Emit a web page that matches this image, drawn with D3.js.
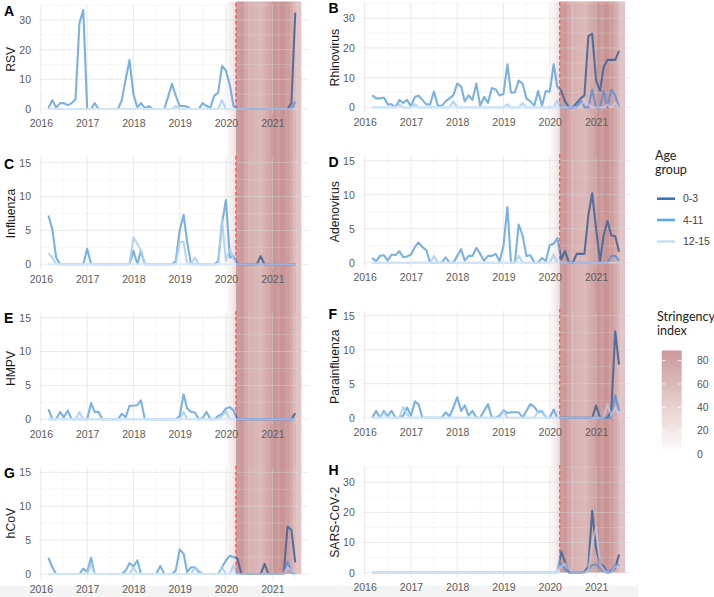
<!DOCTYPE html>
<html>
<head>
<meta charset="utf-8">
<script src="https://cdn.jsdelivr.net/npm/d3@7"></script>
<style>
body { margin: 0; background: #fff; }
svg { display: block; font-family: "Liberation Sans", Arial, sans-serif; }
</style>
</head>
<body>
<div id="chart"></div>
<script>
// Monthly counts per age group, first value = Mar 2016, last = Jul 2021
// rows: Mar-Dec 2016 | 2017 | 2018 | 2019 | 2020 | Jan-Jul 2021
var ageGroups = ["0-3", "4-11", "12-15"];

var rsv03 = [0.3, 3, 0.5, 2, 2, 1.3, 2, 3.3, 29, 33.3,
    0, 0, 2, 0, 0, 0, 0, 0, 0, 3, 10, 16.5,
    5, 0.5, 2, 0.3, 1, 0, 0, 0, 0, 4, 8.5, 4.5,
    1, 1, 0.8, 0, 0, 0, 2, 1, 0.5, 4.5, 5.5, 14.5,
    13, 8, 1, 0, 0, 0, 0, 0, 0, 0, 0, 0,
    0, 0, 0, 0, 0, 2, 32.5];
var rsv411 = [0, 0, 0, 0, 0, 0, 0, 0, 0, 0,
    0, 0, 0, 0, 0, 0, 0, 0, 0, 0, 0, 0,
    0, 0, 0, 0, 0, 0, 0, 0, 0, 0, 0, 1,
    0, 0, 0, 0, 0, 0, 0, 0, 0, 0, 0, 3,
    0, 0, 0, 0, 0, 0, 0, 0, 0, 0, 0, 0,
    0, 0, 0, 0, 0, 0, 2.5];
var rsv1215 = [0, 0, 0, 0, 0, 0, 0, 0, 0, 0,
    0, 0, 0, 0, 0, 0, 0, 0, 0, 0, 0, 0,
    0, 0, 0, 0, 0, 0, 0, 0, 0, 0, 0, 0,
    0, 0, 0, 0, 0, 0, 0, 0, 0, 0, 0, 0,
    0, 0, 0, 0, 0, 0, 0, 0, 0, 0, 0, 0,
    0, 0, 0, 0, 0, 0, 0];

var rhino03 = [4, 3, 3, 3.3, 1, 1, 0, 2.5, 1.5, 2.5,
    0.3, 3.5, 4, 2.5, 1, 1, 5.3, 0.5, 0.5, 2, 3, 4,
    8, 7, 2, 4, 2.5, 8, 0.5, 3.5, 1.5, 6.5, 6, 4,
    4.5, 14.5, 5, 5, 9, 8, 3, 2, 0.5, 5.5, 0.5, 5.5,
    5.3, 14.5, 7, 5.5, 2, 0, 0, 1.5, 3, 4, 24, 24.8,
    9, 5.5, 13.5, 16, 16, 16, 19];
var rhino411 = [0, 0, 0, 0, 0, 0, 0, 1, 0, 0,
    0, 1, 0, 0, 0, 0, 0, 0, 0, 0, 0, 2,
    0, 0, 0, 0, 0, 0, 0, 0, 0, 0, 0, 0,
    0, 1, 0, 0, 0, 1.5, 0, 0, 0, 0, 0, 0,
    0, 0, 2.3, 0, 0, 0, 0, 0, 2.5, 0, 0, 6,
    0, 0, 5.5, 0, 6, 4, 0];
var rhino1215 = [0, 0, 0, 0, 0, 0, 0, 0, 0, 0,
    0, 0, 0, 0, 0, 0, 0, 0, 0, 0, 0, 0,
    0, 0, 0, 0, 0, 0, 0, 0, 0, 0, 0, 0,
    0, 0, 0, 0, 0, 0, 0, 0, 0, 0, 0, 0,
    0, 0, 0, 0, 0, 0, 0, 0, 0, 2.5, 1, 0,
    0, 0, 0, 1, 0, 1.5, 0];

var flu03 = [7.2, 5.2, 1, 0, 0, 0, 0, 0, 0, 0,
    2.3, 0, 0, 0, 0, 0, 0, 0, 0, 0, 0, 0,
    2, 0, 2, 0, 0, 0, 0, 0, 0, 0, 0, 0.5,
    5, 7.3, 3.3, 0, 0, 0, 0, 0, 0, 0, 0.5, 6,
    9.5, 1, 1.2, 0, 0, 0, 0, 0, 0, 1.2, 0, 0,
    0, 0, 0, 0, 0, 0, 0];
var flu411 = [1.6, 1, 0, 0, 0, 0, 0, 0, 0, 0,
    0, 0, 0, 0, 0, 0, 0, 0, 0, 0, 0, 0,
    4, 3, 2, 0, 0, 0, 0, 0, 0, 0, 0, 0,
    3.3, 3.3, 0, 0, 1, 0, 0, 0, 0, 0, 0, 6.5,
    0.5, 2.3, 0.8, 0, 0, 0, 0, 0, 0, 0, 0, 0,
    0, 0, 0, 0, 0, 0, 0];
var flu1215 = rsv1215.slice();

var adeno03 = [0.7, 0.2, 1, 1.1, 0.3, 1.2, 1.1, 1.7, 0.8, 0.9,
    1.2, 2.3, 3, 2.3, 1.9, 0, 0, 0, 0, 0.8, 0, 0,
    1, 2, 0.3, 1, 1, 2.2, 1.3, 0.3, 1, 1, 1.3, 0.2,
    2.5, 8.2, 0, 0, 5.6, 4, 1, 1.1, 0, 0, 0.7, 0.2,
    2.6, 2.8, 3.6, 0.5, 1.7, 0, 0, 1.3, 1.3, 1.3, 7, 10.2,
    5, 0.2, 4, 6.1, 4, 3.9, 1.6];
var adeno411 = [0, 0, 0, 0, 0, 0, 0, 0, 0, 0,
    0, 0, 0, 0, 0, 0, 1, 0, 0, 0, 0, 0,
    0, 0, 0, 0, 0, 0, 0, 0, 0, 0, 0, 0,
    0, 0, 0, 0, 1, 0, 0, 0, 0, 0, 0, 0,
    0, 1.2, 0, 0, 0, 0, 0, 0, 0, 0, 0, 0,
    0, 0, 0, 0, 1, 1, 0.3];
var adeno1215 = rsv1215.slice();

var hmpv03 = [1.5, 0, 0, 1.1, 0.3, 1.3, 0, 0, 0, 0,
    0, 2.4, 1.1, 1.1, 0, 0, 0, 0, 0, 0.8, 0.3, 2,
    2, 2.1, 2.8, 0, 0, 0, 0, 0, 0, 0, 0, 0,
    0.5, 3.7, 1.6, 1.1, 1, 0, 0.2, 1.1, 0, 0, 0.5, 0.8,
    1.6, 1.8, 1.3, 0, 0, 0, 0, 0, 0, 0, 0, 0,
    0, 0, 0, 0, 0, 0, 0.9];
var hmpv411 = [0, 0, 0, 0, 0, 0, 0, 0, 1.1, 0,
    0, 0, 0, 0, 0, 0, 0, 0, 0, 0, 0, 0,
    0, 0, 0, 0, 0, 0, 0, 0, 0, 0, 0, 0,
    0, 1.1, 0, 0, 0, 0, 0, 0, 0, 0, 0, 0.5,
    1.2, 0, 0, 0, 0, 0, 0, 0, 0, 0, 0, 0,
    0, 0, 0, 0, 0, 0, 0];
var hmpv1215 = rsv1215.slice();

var para03 = [0, 1, 0, 1, 0.2, 1, 0, 0, 0.3, 1.5,
    0.3, 2.4, 2, 0, 0, 0, 0, 0, 0, 0.8, 0.2, 1.5,
    3, 1, 1.8, 0.3, 1, 0, 0, 1, 2, 0, 0, 0.3,
    1.1, 0.7, 0.8, 0.8, 0.8, 0, 1, 2, 1.6, 0.8, 1, 0,
    0, 1.2, 0, 0, 0, 0, 0, 0, 0, 0, 0, 0,
    1.8, 0, 0, 0, 1, 12.7, 7.8];
var para411 = [0, 0, 0, 0.8, 0, 0, 0, 0, 1.6, 0.5,
    0, 0, 0, 0, 0, 0, 0, 0, 0, 0, 0, 0,
    0, 0, 0, 0, 0, 0, 0, 0, 0, 0, 0, 0,
    1, 0, 0, 0, 0, 0, 0, 0, 0, 1, 1, 0,
    0, 0, 0, 0, 0, 0, 0, 0, 0, 0, 0, 0,
    0, 0, 0, 0, 0, 3.3, 1];
var para1215 = [0, 0, 0, 0, 0, 0, 0, 0, 0, 0,
    0, 0, 0, 0, 0, 0, 0, 0, 0, 0, 0, 0,
    0, 0, 0, 0, 0, 0, 0, 0, 0, 0, 0, 0,
    0, 0, 0, 0, 0, 0, 0, 0, 0, 0, 0, 0,
    0, 0, 0, 0, 0, 0, 0, 0, 0, 0, 0, 0,
    0, 0, 0, 2, 0.3, 1.5, 0.5];

var hcov03 = [2.4, 1, 0, 0, 0, 0, 0, 0, 0, 0.8,
    0.3, 2.4, 0, 0, 0, 0, 0, 0, 0, 0, 0.5, 1.6,
    1.1, 2, 0, 0, 0, 0, 0, 1.2, 0, 0, 0, 0.5,
    3.6, 3, 0.3, 1, 1, 0.3, 0, 0, 0, 0, 0, 1,
    2, 2.7, 2.5, 2.3, 0, 0, 0, 0, 0, 0, 1.5, 0,
    0, 0, 0, 0, 7, 6.5, 1.7];
var hcov411 = [0, 0, 0, 0, 0, 0, 0, 0, 0, 0,
    0, 1.5, 0, 0, 0, 0, 0, 0, 0, 0, 0, 0,
    1, 0, 0, 0, 0, 0, 0, 0, 0, 0, 0, 0,
    0, 0, 0, 0, 1, 0.5, 0, 0, 0, 0, 0, 1,
    0, 0, 1.3, 0, 0, 0, 0, 0, 0, 0, 0, 0,
    0, 0, 0, 0, 1.8, 0.3, 0];
var hcov1215 = [0, 0, 0, 0, 0, 0, 0, 0, 0, 0,
    0, 0, 0, 0, 0, 0, 0, 0, 0, 0, 0, 0,
    0, 0, 0, 0, 0, 0, 0, 0, 0, 0, 0, 0,
    0, 0, 0, 0, 0, 0, 0, 0, 0, 0, 0, 0,
    0, 0, 0, 0, 0, 0, 0, 0, 0, 0, 0, 0,
    0, 0, 0, 0, 1, 0.5, 0];

var sars03 = [0, 0, 0, 0, 0, 0, 0, 0, 0, 0,
    0, 0, 0, 0, 0, 0, 0, 0, 0, 0, 0, 0,
    0, 0, 0, 0, 0, 0, 0, 0, 0, 0, 0, 0,
    0, 0, 0, 0, 0, 0, 0, 0, 0, 0, 0, 0,
    0, 0, 0, 7, 3.5, 0.5, 0, 0, 0, 0.3, 2, 20.5,
    8, 3, 2, 0, 0.3, 1.5, 6];
var sars411 = [0, 0, 0, 0, 0, 0, 0, 0, 0, 0,
    0, 0, 0, 0, 0, 0, 0, 0, 0, 0, 0, 0,
    0, 0, 0, 0, 0, 0, 0, 0, 0, 0, 0, 0,
    0, 0, 0, 0, 0, 0, 0, 0, 0, 0, 0, 0,
    0, 0, 0, 3, 1, 0, 0, 0, 0, 0, 1, 2.5,
    2.8, 1.5, 0.5, 0, 1, 2.5, 2.5];
var sars1215 = [0, 0, 0, 0, 0, 0, 0, 0, 0, 0,
    0, 0, 0, 0, 0, 0, 0, 0, 0, 0, 0, 0,
    0, 0, 0, 0, 0, 0, 0, 0, 0, 0, 0, 0,
    0, 0, 0, 0, 0, 0, 0, 0, 0, 0, 0, 0,
    0, 0, 0, 2, 3, 1, 0, 0, 0, 0, 1, 10,
    15, 3, 1, 0, 0, 2, 2];

var panelNames = ["RSV", "Rhinovirus", "Influenza", "Adenovirus", "HMPV", "Parainfluenza", "hCoV", "SARS-CoV-2"];
var panelLetters = ["A", "B", "C", "D", "E", "F", "G", "H"];
var panelMax = [33.5, 33.5, 15, 15, 15, 15, 15, 33.5];
var panelSeries = [[rsv03, rsv411, rsv1215], [rhino03, rhino411, rhino1215],
    [flu03, flu411, flu1215], [adeno03, adeno411, adeno1215],
    [hmpv03, hmpv411, hmpv1215], [para03, para411, para1215],
    [hcov03, hcov411, hcov1215], [sars03, sars411, sars1215]];

// Stringency index, step changes (last date closes the band)
var stringencyDates = ["2020-01-10", "2020-02-01", "2020-02-25", "2020-03-20", "2020-04-20", "2020-05-20",
    "2020-06-20", "2020-08-01", "2020-09-10", "2020-10-15", "2020-11-10", "2020-12-10", "2021-01-05",
    "2021-02-05", "2021-03-01", "2021-04-15", "2021-05-20", "2021-06-15", "2021-07-10", "2021-08-15"];
var stringencyValues = [8, 14, 22, 76, 80, 68, 60, 56, 54, 60, 66, 74, 82, 76, 84, 76, 66, 56, 46];
var stringencyBreaks = [0, 20, 40, 60, 80];
var lockdownDate = "2020-03-20";

// ---------------- layout ----------------
var width = 714, height = 597;
var colX0 = [40.8, 364.6];        // pixel of 1 Jan 2016 in each column
var colRight = [308.4, 630.5];
var pxPerYear = 46.3;
var rowTop = [[4.6, 157.6, 312.6, 467.2], [2.9, 155.6, 310.6, 466.7]];
var rowBottom = [[114, 269.4, 424.4, 579.1], [112.3, 267.8, 422.8, 577.7]];
var letterY = [15.5, 12.5, 168.5, 167, 323, 319, 478, 475];

var parseDate = d3.timeParse("%Y-%m-%d");
var lockdown = parseDate(lockdownDate);
var months = d3.range(rsv03.length).map(i => d3.timeMonth.offset(new Date(2016, 2, 1), i));

var shadeColor = d3.scaleLinear().domain([0, 90]).range(["#ffffff", "#c48c8c"]);

// pre / post lockdown line styles
var preStyle = [
    {color: "#5b9fd8", opacity: 0.8},
    {color: "#a9cff0", opacity: 0.85},
    {color: "#d6e8f8", opacity: 0.9}];
var postStyle = [
    {color: "#4a6898", opacity: 0.92},
    {color: "#5d8fd4", opacity: 0.8},
    {color: "#c9d3ee", opacity: 0.6}];
var legendColors = ["#3c78b9", "#5aaaeb", "#c8e1f5"];

var svg = d3.select("#chart")
    .append("svg")
    .attr("width", width)
    .attr("height", height);

var defs = svg.append("defs");

// faint grey strip at the bottom
svg.append("rect")
    .attr("x", 0).attr("y", 586)
    .attr("width", 638).attr("height", 11)
    .attr("fill", "#f4f4f4");

function xScaleFor(col) {
    return d3.scaleTime()
        .domain([new Date(2016, 0, 1), new Date(2021, 0, 1)])
        .range([colX0[col], colX0[col] + 5 * pxPerYear]);
}

function yScaleFor(i) {
    var col = i % 2, row = Math.floor(i / 2);
    return d3.scaleLinear()
        .domain([-0.05 * panelMax[i], 1.05 * panelMax[i]])
        .range([rowBottom[col][row], rowTop[col][row]]);
}

// stringency band, one per column
[0, 1].forEach(function(col) {
    var x = xScaleFor(col);
    var yEnd = yScaleFor(6 + col)(0);
    var band = svg.append("g");
    band.selectAll("rect")
        .data(stringencyValues)
        .enter()
        .append("rect")
        .attr("x", (d, i) => x(parseDate(stringencyDates[i])))
        .attr("width", (d, i) => x(parseDate(stringencyDates[i + 1])) - x(parseDate(stringencyDates[i])) + 0.4)
        .attr("y", 1.5)
        .attr("height", yEnd - 1.5)
        .attr("fill", d => shadeColor(d));

    var xd = x(lockdown);
    defs.append("clipPath").attr("id", "pre" + col)
        .append("rect").attr("x", 0).attr("y", 0).attr("width", xd).attr("height", height);
    defs.append("clipPath").attr("id", "post" + col)
        .append("rect").attr("x", xd).attr("y", 0).attr("width", width - xd).attr("height", height);
});

// panels
panelNames.forEach(function(name, i) {
    var col = i % 2, row = Math.floor(i / 2);
    var x = xScaleFor(col);
    var y = yScaleFor(i);
    var left = colX0[col] - 1.5, right = colRight[col];
    var top = rowTop[col][row], bottom = rowBottom[col][row];
    var g = svg.append("g");

    var majorY = panelMax[i] > 20 ? [0, 10, 20, 30] : [0, 5, 10, 15];
    var minorY = panelMax[i] > 20 ? [5, 15, 25, 35] : [2.5, 7.5, 12.5];
    var majorX = d3.timeYear.range(new Date(2016, 0, 1), new Date(2022, 0, 1));
    var minorX = majorX.map(d => new Date(d.getFullYear(), 6, 1));

    // grid
    g.selectAll(".minorY").data(minorY).enter().append("line")
        .attr("x1", left).attr("x2", right)
        .attr("y1", d => y(d)).attr("y2", d => y(d))
        .attr("stroke", "#e2e2e2").attr("stroke-opacity", 0.45).attr("stroke-width", 0.6);
    g.selectAll(".minorX").data(minorX).enter().append("line")
        .attr("x1", d => x(d)).attr("x2", d => x(d))
        .attr("y1", top).attr("y2", bottom)
        .attr("stroke", "#e2e2e2").attr("stroke-opacity", 0.45).attr("stroke-width", 0.6);
    g.selectAll(".majorY").data(majorY).enter().append("line")
        .attr("x1", left).attr("x2", right)
        .attr("y1", d => y(d)).attr("y2", d => y(d))
        .attr("stroke", "#d8d8d8").attr("stroke-opacity", 0.5).attr("stroke-width", 1);
    g.selectAll(".majorX").data(majorX).enter().append("line")
        .attr("x1", d => x(d)).attr("x2", d => x(d))
        .attr("y1", top).attr("y2", bottom)
        .attr("stroke", "#d8d8d8").attr("stroke-opacity", 0.5).attr("stroke-width", 1);

    // lockdown marker
    g.append("line")
        .attr("x1", x(lockdown)).attr("x2", x(lockdown))
        .attr("y1", Math.max(top - 1.5, 2)).attr("y2", y(0))
        .attr("stroke", "#ff5c5c")
        .attr("stroke-width", 1.5)
        .attr("stroke-dasharray", "3.5,2.5");

    // lines
    var line = d3.line()
        .x((d, k) => x(months[k]))
        .y(d => y(d));
    [["pre", preStyle], ["post", postStyle]].forEach(function(p) {
        panelSeries[i].forEach(function(vals, s) {
            g.append("path")
                .datum(vals)
                .attr("clip-path", "url(#" + p[0] + col + ")")
                .attr("fill", "none")
                .attr("stroke", p[1][s].color)
                .attr("stroke-opacity", p[1][s].opacity)
                .attr("stroke-width", 2.1)
                .attr("stroke-linejoin", "round")
                .attr("d", line);
        });
    });

    // axes
    var yAxis = g.append("g")
        .attr("transform", `translate(${left},0)`)
        .call(d3.axisLeft(y).tickValues(majorY).tickSize(0).tickPadding(8.3));
    yAxis.select(".domain").remove();
    yAxis.selectAll("text").attr("font-size", 10.5).attr("fill", "#5c5c5c")
        .attr("font-family", "Liberation Sans, Arial, sans-serif");

    var xAxis = g.append("g")
        .attr("transform", `translate(0,${bottom})`)
        .call(d3.axisBottom(x).tickValues(majorX).tickSize(0).tickPadding(6).tickFormat(d3.timeFormat("%Y")));
    xAxis.select(".domain").remove();
    xAxis.selectAll("text").attr("font-size", 10.5).attr("fill", "#5c5c5c")
        .attr("font-family", "Liberation Sans, Arial, sans-serif");

    // axis title
    var tx = col === 0 ? 15 : 338.5;
    g.append("text")
        .attr("transform", `translate(${tx},${(top + bottom) / 2}) rotate(-90)`)
        .attr("text-anchor", "middle")
        .attr("font-size", 12.2)
        .attr("fill", "#1a1a1a")
        .text(name);

    // panel letter
    g.append("text")
        .attr("x", col === 0 ? 4 : 328.5)
        .attr("y", letterY[i])
        .attr("font-size", 14)
        .attr("font-weight", "bold")
        .attr("fill", "#000")
        .text(panelLetters[i]);
});

// ---------------- legends ----------------
var legend = svg.append("g").attr("font-family", "Lato, 'Open Sans', sans-serif");
legend.append("text").attr("x", 655).attr("y", 160).attr("font-size", 12.5).attr("fill", "#222").text("Age");
legend.append("text").attr("x", 655).attr("y", 174).attr("font-size", 12.5).attr("fill", "#222").text("group");

var keyY = [198.7, 220, 241.5];
ageGroups.forEach(function(a, i) {
    legend.append("line")
        .attr("x1", 657).attr("x2", 675)
        .attr("y1", keyY[i]).attr("y2", keyY[i])
        .attr("stroke", legendColors[i]).attr("stroke-width", 2.6);
    legend.append("text")
        .attr("x", 683).attr("y", keyY[i]).attr("dy", "0.35em")
        .attr("font-family", "Liberation Sans, Arial, sans-serif")
        .attr("font-size", 10.5).attr("fill", "#444")
        .text(a);
});

legend.append("text").attr("x", 657).attr("y", 321).attr("font-size", 12.5).attr("fill", "#222").text("Stringency");
legend.append("text").attr("x", 657).attr("y", 335).attr("font-size", 12.5).attr("fill", "#222").text("index");

var barScale = d3.scaleLinear().domain([0, 88.7]).range([454, 350.5]);
var grad = defs.append("linearGradient")
    .attr("id", "stringGrad")
    .attr("x1", 0).attr("y1", 1).attr("x2", 0).attr("y2", 0);
d3.range(0, 1.01, 0.1).forEach(function(t) {
    grad.append("stop")
        .attr("offset", t)
        .attr("stop-color", shadeColor(t * 88.7));
});
legend.append("rect")
    .attr("x", 661.7).attr("y", barScale(88.7))
    .attr("width", 20).attr("height", barScale(0) - barScale(88.7))
    .attr("fill", "url(#stringGrad)")
    .attr("fill-opacity", 0.9);

stringencyBreaks.forEach(function(b) {
    var yy = barScale(b);
    if (b > 0) {
        legend.append("line").attr("x1", 661.7).attr("x2", 665.7).attr("y1", yy).attr("y2", yy)
            .attr("stroke", "#fff").attr("stroke-width", 0.8);
        legend.append("line").attr("x1", 677.7).attr("x2", 681.7).attr("y1", yy).attr("y2", yy)
            .attr("stroke", "#fff").attr("stroke-width", 0.8);
    }
    legend.append("text")
        .attr("x", 697).attr("y", yy).attr("dy", "0.35em")
        .attr("font-family", "Liberation Sans, Arial, sans-serif")
        .attr("font-size", 10.5).attr("fill", "#555")
        .text(b);
});
</script>
</body>
</html>
